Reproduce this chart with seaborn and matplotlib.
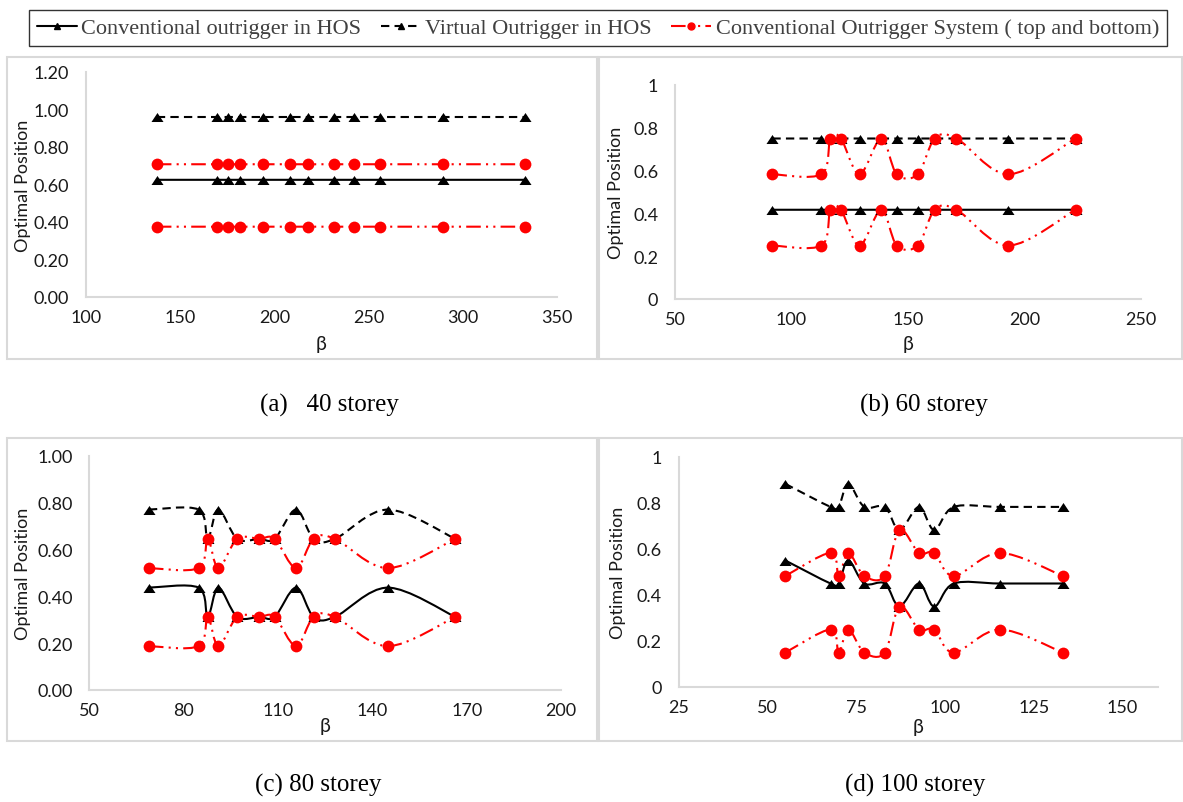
import numpy as np
import matplotlib
matplotlib.use("Agg")
import matplotlib.pyplot as plt
from matplotlib.path import Path
from matplotlib.patches import PathPatch, Rectangle
from matplotlib.lines import Line2D
import seaborn as sns

# ---- data ----
# (a) 40 storey
beta_40 = [137.6, 169.5, 175.2, 181.9, 193.7, 208.1, 217.9, 231.5, 242.3, 256.1, 289.6, 333.1]
conv_hos_40 = [0.625, 0.625, 0.625, 0.625, 0.625, 0.625, 0.625, 0.625, 0.625, 0.625, 0.625, 0.625]
virt_hos_40 = [0.96, 0.96, 0.96, 0.96, 0.96, 0.96, 0.96, 0.96, 0.96, 0.96, 0.96, 0.96]
conv_top_40 = [0.708, 0.708, 0.708, 0.708, 0.708, 0.708, 0.708, 0.708, 0.708, 0.708, 0.708, 0.708]
conv_bot_40 = [0.375, 0.375, 0.375, 0.375, 0.375, 0.375, 0.375, 0.375, 0.375, 0.375, 0.375, 0.375]

# (b) 60 storey
beta_60 = [91.8, 112.8, 116.7, 121.2, 129.2, 138.5, 145.2, 154.2, 161.5, 170.8, 193.1, 221.9]
conv_hos_60 = [0.417, 0.417, 0.417, 0.417, 0.417, 0.417, 0.417, 0.417, 0.417, 0.417, 0.417, 0.417]
virt_hos_60 = [0.75, 0.75, 0.75, 0.75, 0.75, 0.75, 0.75, 0.75, 0.75, 0.75, 0.75, 0.75]
conv_top_60 = [0.583, 0.583, 0.75, 0.75, 0.583, 0.75, 0.583, 0.583, 0.75, 0.75, 0.583, 0.75]
conv_bot_60 = [0.25, 0.25, 0.417, 0.417, 0.25, 0.417, 0.25, 0.25, 0.417, 0.417, 0.25, 0.417]

# (c) 80 storey
beta_80 = [68.9, 84.7, 87.6, 91.0, 97.0, 104.0, 108.9, 115.7, 121.3, 128.1, 144.9, 166.4]
conv_hos_80 = [0.4375, 0.4375, 0.3125, 0.4375, 0.3125, 0.3125, 0.3125, 0.4375, 0.3125, 0.3125, 0.4375, 0.3125]
virt_hos_80 = [0.771, 0.771, 0.646, 0.771, 0.646, 0.646, 0.646, 0.771, 0.646, 0.646, 0.771, 0.646]
conv_top_80 = [0.521, 0.521, 0.646, 0.521, 0.646, 0.646, 0.646, 0.521, 0.646, 0.646, 0.521, 0.646]
conv_bot_80 = [0.1875, 0.1875, 0.3125, 0.1875, 0.3125, 0.3125, 0.3125, 0.1875, 0.3125, 0.3125, 0.1875, 0.3125]

# (d) 100 storey
beta_100 = [55.1, 67.8, 70.1, 72.8, 77.3, 83.1, 87.2, 92.7, 97.0, 102.5, 115.5, 133.2]
conv_hos_100 = [0.55, 0.45, 0.45, 0.55, 0.45, 0.45, 0.35, 0.45, 0.35, 0.45, 0.45, 0.45]
virt_hos_100 = [0.883, 0.783, 0.783, 0.883, 0.783, 0.783, 0.683, 0.783, 0.683, 0.783, 0.783, 0.783]
conv_top_100 = [0.483, 0.583, 0.483, 0.583, 0.483, 0.483, 0.683, 0.583, 0.583, 0.483, 0.583, 0.483]
conv_bot_100 = [0.15, 0.25, 0.15, 0.25, 0.15, 0.15, 0.35, 0.25, 0.25, 0.15, 0.25, 0.15]

legend_labels = ["Conventional outrigger in HOS", "Virtual Outrigger in HOS",
                 "Conventional Outrigger System ( top and bottom)"]
captions = ["(a)   40 storey", "(b) 60 storey", "(c) 80 storey", "(d) 100 storey"]

sns.set_style("white")
plt.rcParams["font.family"] = ["Lato", "DejaVu Sans"]

W, H = 1183, 803
fig = plt.figure(figsize=(W / 100, H / 100), dpi=100)

GRAY = "#d9d9d9"
RED = "#ff0000"
DASH = (0, (4, 2.5))
DASH_DOT_DOT = (0, (7, 2.5, 1, 2.5, 1, 2.5))
TRI = [(0, 0.75), (-1, -0.75), (1, -0.75)]  # a slightly flat triangle like excel's


def px_rect(l, r, b, t):
    return [l / W, 1 - b / H, (r - l) / W, (b - t) / H]


def smooth_path(x, y):
    # excel style smoothed line: catmull-rom converted to cubic bezier
    pts = np.column_stack([x, y]).astype(float)
    n = len(pts)
    verts = [pts[0]]
    codes = [Path.MOVETO]
    for i in range(n - 1):
        p0 = pts[i - 1] if i > 0 else pts[i]
        p1 = pts[i]
        p2 = pts[i + 1]
        p3 = pts[i + 2] if i + 2 < n else pts[i + 1]
        verts += [p1 + (p2 - p0) / 6, p2 - (p3 - p1) / 6, p2]
        codes += [Path.CURVE4] * 3
    return Path(verts, codes)


def draw_panel(rect, beta, hos, virt, top, bot, xlim, xticks, yticks, yfmt,
               frame, ylab_x, xlab_y):
    ax = fig.add_axes(px_rect(*rect))
    for y, col, ls in [(hos, "black", "-"), (virt, "black", DASH),
                       (top, RED, DASH_DOT_DOT), (bot, RED, DASH_DOT_DOT)]:
        ax.add_patch(PathPatch(smooth_path(beta, y), facecolor="none",
                               edgecolor=col, lw=1.5, linestyle=ls, zorder=2))
    sns.scatterplot(x=beta, y=hos, marker=TRI, s=75, color="black", linewidth=0, ax=ax, zorder=3)
    sns.scatterplot(x=beta, y=virt, marker=TRI, s=75, color="black", linewidth=0, ax=ax, zorder=3)
    sns.scatterplot(x=beta, y=top, marker="o", s=72, color=RED, linewidth=0, ax=ax, zorder=4)
    sns.scatterplot(x=beta, y=bot, marker="o", s=72, color=RED, linewidth=0, ax=ax, zorder=4)

    ax.set_xlim(*xlim)
    ax.set_ylim(yticks[0], yticks[-1])
    ax.set_xticks(xticks)
    ax.set_yticks(yticks)
    ax.set_yticklabels([yfmt(v) for v in yticks])
    ax.tick_params(length=0, labelsize=13, colors="#1a1a1a")
    ax.tick_params(axis="x", pad=9)
    ax.tick_params(axis="y", pad=12)
    for s in ["top", "right"]:
        ax.spines[s].set_visible(False)
    for s in ["left", "bottom"]:
        ax.spines[s].set_color(GRAY)
        ax.spines[s].set_linewidth(1.5)
    ax.set_facecolor("none")

    ax.set_xlabel("β", fontsize=14, color="#1a1a1a")
    ax.set_ylabel("Optimal Position", fontsize=13, color="#1a1a1a")
    ah = rect[2] - rect[3]
    aw = rect[1] - rect[0]
    ax.xaxis.set_label_coords(0.5, -(xlab_y - rect[2]) / ah)
    ax.yaxis.set_label_coords((ylab_x - rect[0]) / aw, 0.5)

    x0, x1, y0, y1 = frame
    fig.add_artist(Rectangle((x0 / W, 1 - y1 / H), (x1 - x0) / W, (y1 - y0) / H,
                             transform=fig.transFigure, fill=False,
                             edgecolor=GRAY, lw=1.5))
    return ax


two_dec = lambda v: f"{v:.2f}"
general = lambda v: f"{v:g}"

draw_panel((86, 557, 298, 73), beta_40, conv_hos_40, virt_hos_40, conv_top_40, conv_bot_40,
           (100, 350), [100, 150, 200, 250, 300, 350],
           [0, 0.2, 0.4, 0.6, 0.8, 1.0, 1.2], two_dec, (7, 597, 58, 360), 31, 336)
draw_panel((675, 1141, 300, 86), beta_60, conv_hos_60, virt_hos_60, conv_top_60, conv_bot_60,
           (50, 250), [50, 100, 150, 200, 250],
           [0, 0.2, 0.4, 0.6, 0.8, 1.0], general, (599, 1182, 58, 360), 624, 336)
draw_panel((89.5, 561, 691, 457), beta_80, conv_hos_80, virt_hos_80, conv_top_80, conv_bot_80,
           (50, 200), [50, 80, 110, 140, 170, 200],
           [0, 0.2, 0.4, 0.6, 0.8, 1.0], two_dec, (7, 597, 439, 742), 31, 718)
draw_panel((678.5, 1158, 688, 458), beta_100, conv_hos_100, virt_hos_100, conv_top_100, conv_bot_100,
           (25, 160), [25, 50, 75, 100, 125, 150],
           [0, 0.2, 0.4, 0.6, 0.8, 1.0], general, (599, 1182, 439, 742), 626, 719)

# captions
serif = ["Liberation Serif", "DejaVu Serif"]
for txt, (cx, cy) in zip(captions, [(329, 405), (924, 405), (318, 785), (915, 785)]):
    fig.text(cx / W, 1 - cy / H, txt, ha="center", va="center", fontsize=18,
             family=serif, color="black")

# shared legend
handles = [
    Line2D([], [], color="black", lw=1.5, marker="^", markersize=5),
    Line2D([], [], color="black", lw=1.5, linestyle=DASH, marker="^", markersize=5),
    Line2D([], [], color=RED, lw=1.5, linestyle=DASH_DOT_DOT, marker="o", markersize=5),
]
leg = fig.legend(handles, legend_labels, loc="center",
                 bbox_to_anchor=(18 / W, 1 - 50 / H, 1160 / W, 42 / H), mode="expand",
                 ncol=3, frameon=True, fancybox=False, handlelength=1.8,
                 handletextpad=0.2, columnspacing=0.8, borderpad=0.35,
                 prop={"family": serif, "size": 16})
leg.get_frame().set_edgecolor("black")
leg.get_frame().set_linewidth(1.0)
for t in leg.get_texts():
    t.set_color("#404040")

fig.savefig("out.png", dpi=100)
